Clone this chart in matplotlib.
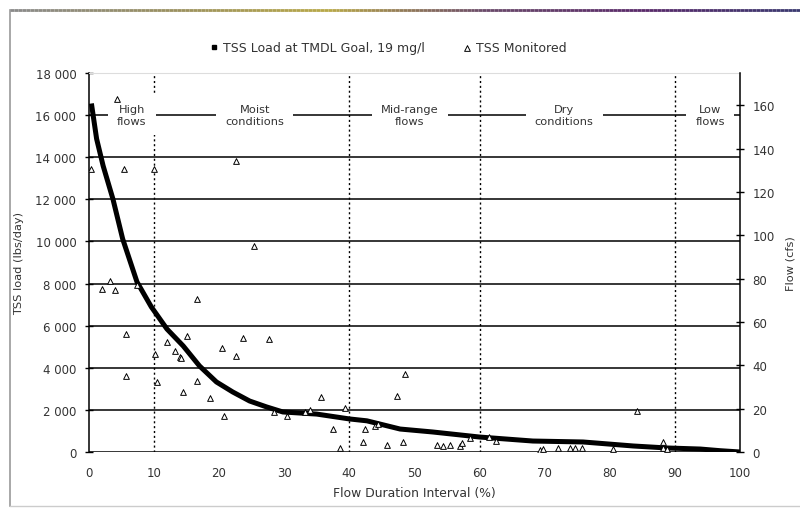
import numpy as np
import matplotlib
matplotlib.use("Agg")
import matplotlib.pyplot as plt
from matplotlib.collections import LineCollection
from matplotlib.colors import LinearSegmentedColormap

# TMDL load duration curve (lbs/day)
curve_x = [0.4, 1.2, 2.2, 3.7, 5.2, 7.4, 9.6, 12, 14.5, 17, 19.6, 22.1, 24.7,
           27.3, 29.8, 35, 40, 42.7, 47.8, 52.8, 60, 68.2, 75.9, 83.6, 88.8,
           93.9, 97, 100]
curve_y = [16550, 14870, 13590, 12020, 10120, 8075, 6890, 5840, 5035, 4085,
           3325, 2850, 2420, 2140, 1900, 1800, 1570, 1480, 1090, 950, 710,
           520, 475, 285, 190, 140, 60, 0]

# monitored TSS loads
mon_x = [4.3, 0.3, 5.4, 10.0, 22.6, 25.3, 2.0, 3.2, 4.1, 7.4, 16.6, 5.7, 5.7,
         10.1, 10.4, 12.0, 13.2, 14.0, 14.1, 15.1, 14.5, 16.6, 18.6, 20.4,
         20.7, 22.6, 23.7, 27.7, 28.4, 30.4, 33.2, 33.9, 35.6, 37.5, 38.6,
         39.3, 42.1, 42.4, 43.9, 44.4, 45.8, 47.3, 48.5, 48.2, 53.4, 54.4,
         55.5, 57.0, 57.3, 58.5, 61.4, 62.6, 69.3, 69.8, 72.0, 73.9, 74.7,
         75.7, 80.5, 84.2, 88.2, 88.2, 88.8]
mon_y = [16770, 13440, 13440, 13440, 13820, 9790, 7740, 8120, 7700, 7930,
         7270, 5600, 3610, 4650, 3330, 5220, 4800, 4510, 4460, 5510, 2850,
         3370, 2560, 4940, 1710, 4560, 5410, 5370, 1900, 1710, 1900, 2000,
         2610, 1090, 190, 2090, 475, 1090, 1240, 1330, 330, 2660, 3700, 475,
         330, 285, 330, 285, 430, 665, 710, 520, 95, 140, 190, 190, 190, 190,
         140, 1950, 475, 190, 140]

regions = ["High\nflows", "Moist\nconditions", "Mid-range\nflows",
           "Dry\nconditions", "Low\nflows"]
region_x = [6.6, 25.5, 49.3, 73.0, 95.4]
zone_bounds = [10, 40, 60, 90]
load_ticks = list(range(0, 18001, 2000))
flow_ticks = list(range(0, 161, 20))
x_ticks = list(range(0, 101, 10))
factor = 102.9  # lbs/day per cfs at 19 mg/l

txt = "#333333"
fig = plt.figure(figsize=(8, 5.1), dpi=100)
ax = fig.add_axes([0.111, 0.1118, 0.814, 0.7432])

for v in load_ticks[:-1]:
    ax.axhline(v, color="black", lw=1.1, zorder=1)
for b in zone_bounds:
    ax.axvline(b, color="black", lw=1.0, ls=(0, (1.5, 2)), zorder=1)

ax.plot(curve_x, curve_y, color="black", lw=3.6, solid_capstyle="butt",
        zorder=3, label="TSS Load at TMDL Goal, 19 mg/l")
ax.scatter(mon_x, mon_y, marker="^", s=17, facecolors="white",
           edgecolors="black", linewidths=0.7, zorder=4, label="TSS Monitored")

for lab, xp in zip(regions, region_x):
    ax.text(xp, 16000, lab, ha="center", va="center", fontsize=8.2,
            color=txt, linespacing=1.15, zorder=2,
            bbox=dict(boxstyle="square,pad=0.8", fc="white", ec="none"))

ax.set_xlim(0, 100)
ax.set_ylim(0, 18000)
ax.set_xticks(x_ticks)
ax.set_yticks(load_ticks)
ax.set_yticklabels([f"{v:,}".replace(",", " ") for v in load_ticks])
ax.tick_params(direction="inout", length=6, width=1, labelsize=8.5,
               labelcolor=txt, pad=6)
ax.tick_params(axis="x", length=0, pad=10)
ax.spines["right"].set_visible(False)
ax.spines["top"].set_color("#dddddd")
ax.spines["left"].set_linewidth(1.1)
ax.spines["bottom"].set_visible(False)

ax2 = ax.twinx()
ax2.set_ylim(0, 18000 / factor)
ax2.set_yticks(flow_ticks)
ax2.tick_params(direction="inout", length=6, width=1, labelsize=8.5,
                labelcolor=txt, pad=6)
for s in ["left", "top", "bottom"]:
    ax2.spines[s].set_visible(False)
ax2.spines["right"].set_linewidth(1.1)

ax.set_xlabel("Flow Duration Interval (%)", fontsize=8.9, color=txt,
              labelpad=5)
ax.set_ylabel("TSS load (lbs/day)", fontsize=8.2, color=txt, labelpad=8)
ax2.set_ylabel("Flow (cfs)", fontsize=8.2, color=txt, labelpad=8)

h, l = ax.get_legend_handles_labels()
h[0] = plt.Line2D([], [], ls="none", marker="s", ms=3, color="black")
fig.legend(h, l, loc="center", bbox_to_anchor=(0.485, 0.905), ncol=2,
           frameon=False, fontsize=9, labelcolor=txt, handletextpad=0.3,
           columnspacing=3, handlelength=0.8)

# page frame with coloured top rule
fig.add_artist(plt.Line2D([0.0125, 0.0125], [0.005, 0.978], color="#999999",
                          lw=1.2, transform=fig.transFigure))
fig.add_artist(plt.Line2D([0.0125, 1.0], [0.006, 0.006], color="#cccccc",
                          lw=1, transform=fig.transFigure))
xs = np.linspace(0.0125, 1.0, 200)
pts = np.array([xs, np.full_like(xs, 0.978)]).T.reshape(-1, 1, 2)
segs = np.concatenate([pts[:-1], pts[1:]], axis=1)
cmap = LinearSegmentedColormap.from_list(
    "rule", ["#8a8a8a", "#9a9060", "#b8a848", "#6a4a6a", "#5a2a6a", "#3a3a70"])
lc = LineCollection(segs, cmap=cmap, lw=2, transform=fig.transFigure)
lc.set_array(xs)
fig.add_artist(lc)

fig.savefig("out.png", dpi=100)
